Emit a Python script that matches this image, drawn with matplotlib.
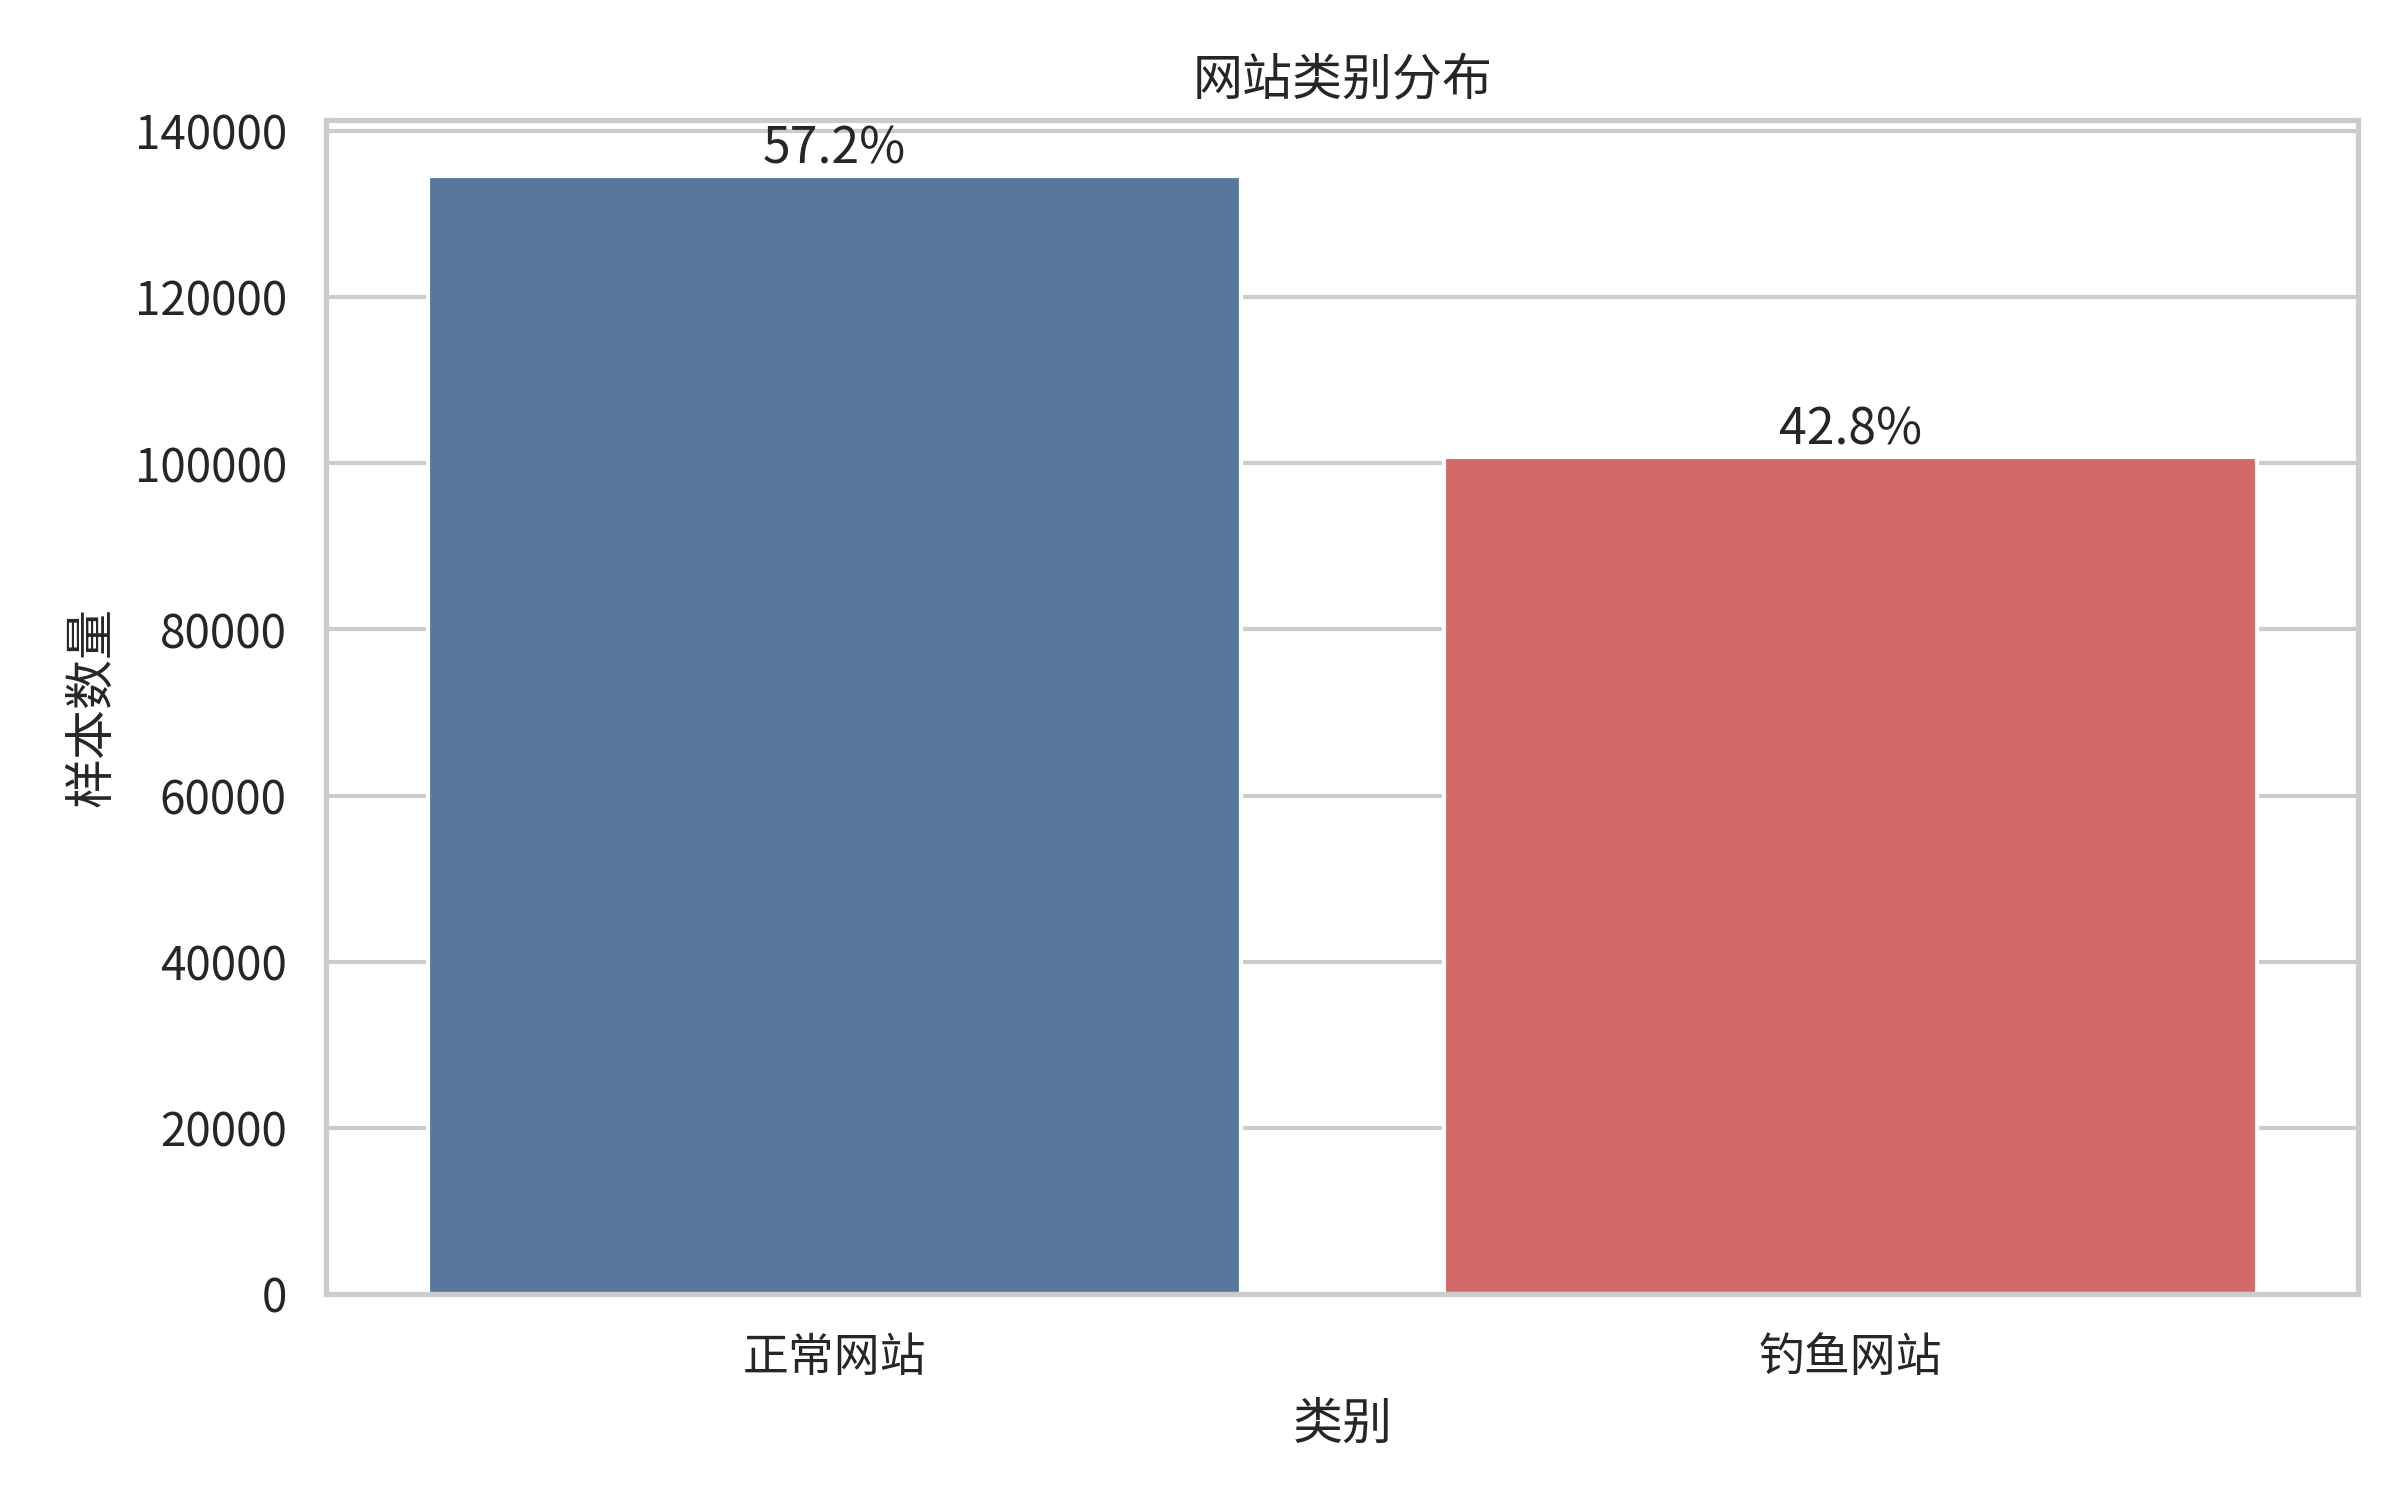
import matplotlib
matplotlib.use("Agg")
import matplotlib.pyplot as plt
import seaborn as sns

# ---- data ----
categories = ["正常网站", "钓鱼网站"]
counts = [134600, 100800]
bar_colors = ["#58789B", "#D26969"]

sns.set_theme(style="whitegrid")
plt.rcParams["font.family"] = ["Noto Sans CJK SC", "DejaVu Sans"]
plt.rcParams["axes.unicode_minus"] = False

fig, ax = plt.subplots(figsize=(8, 5), dpi=300)

x = list(range(len(categories)))
bars = ax.bar(x, counts, width=0.8, color=bar_colors, edgecolor="white",
              linewidth=1.0, zorder=2)
ax.set_xlim(-0.5, len(categories) - 0.5)
ax.set_xticks(x)
ax.set_xticklabels(categories)
ax.xaxis.grid(False)
ax.set_axisbelow(True)

total = sum(counts)
for rect, c in zip(bars, counts):
    ax.annotate(f"{c / total * 100:.1f}%",
                (rect.get_x() + rect.get_width() / 2, rect.get_height()),
                xytext=(0, 0), textcoords="offset points",
                ha="center", va="bottom", fontsize=12, color="#262626")

ax.set_title("网站类别分布", fontsize=12)
ax.set_xlabel("类别", fontsize=12)
ax.set_ylabel("样本数量", fontsize=12)
ax.tick_params(axis="both", labelsize=11)

fig.subplots_adjust(left=0.136, right=0.9827, top=0.92, bottom=0.1374)
plt.savefig("out.png", dpi=300)
plt.close(fig)
